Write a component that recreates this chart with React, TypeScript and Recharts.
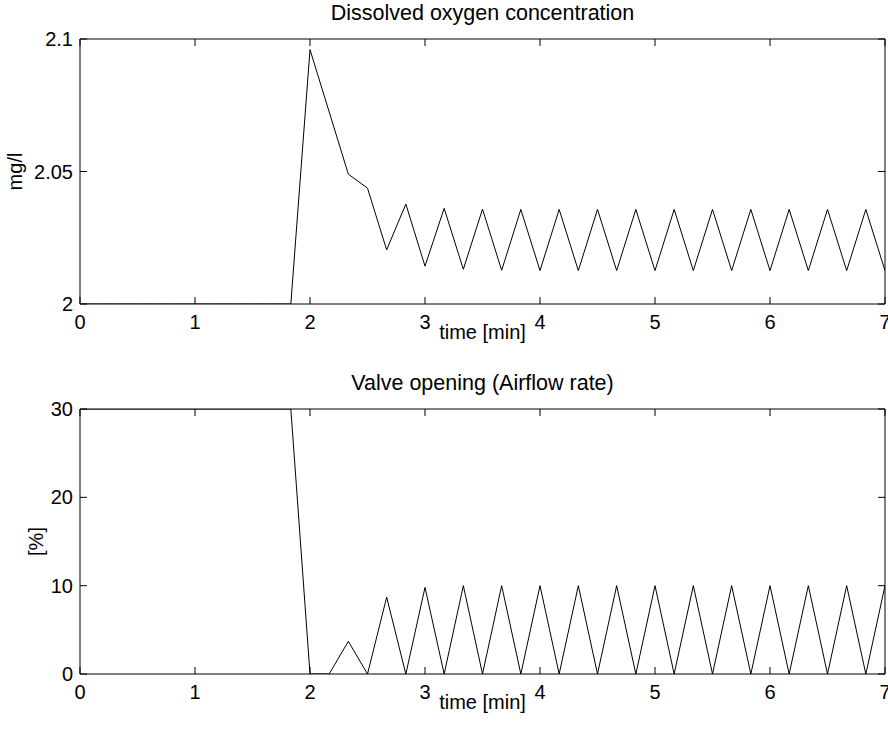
import React from 'react';
import { LineChart, Line, XAxis, YAxis, Label } from 'recharts';

const FONT = 'Arial, "Liberation Sans", Helvetica, sans-serif';
const FS = 20;
const TITLE_FS = 21.5;

// time samples [min]
const timeMin = [
  0, 0.1667, 0.3333, 0.5, 0.6667, 0.8333, 1, 1.1667, 1.3333, 1.5, 1.6667, 1.8333,
  2, 2.1667, 2.3333, 2.5, 2.6667, 2.8333, 3, 3.1667, 3.3333, 3.5, 3.6667, 3.8333,
  4, 4.1667, 4.3333, 4.5, 4.6667, 4.8333, 5, 5.1667, 5.3333, 5.5, 5.6667, 5.8333,
  6, 6.1667, 6.3333, 6.5, 6.6667, 6.8333, 7,
];

// dissolved oxygen [mg/l]
const oxygen = [
  2, 2, 2, 2, 2, 2, 2, 2, 2, 2, 2, 2,
  2.096, 2.0725, 2.049, 2.0437, 2.0204, 2.0377, 2.0143, 2.0361, 2.0131, 2.0358, 2.0127, 2.0357,
  2.0126, 2.0357, 2.0126, 2.0357, 2.0126, 2.0357, 2.0126, 2.0357, 2.0126, 2.0357, 2.0126, 2.0357,
  2.0126, 2.0357, 2.0126, 2.0357, 2.0126, 2.0357, 2.0126,
];

// valve opening [%]
const valve = [
  30, 30, 30, 30, 30, 30, 30, 30, 30, 30, 30, 30,
  0, 0, 3.7, 0, 8.7, 0, 9.8, 0, 10, 0, 10, 0,
  10, 0, 10, 0, 10, 0, 10, 0, 10, 0, 10, 0,
  10, 0, 10, 0, 10, 0, 10,
];

const xTicks = [0, 1, 2, 3, 4, 5, 6, 7];
const oxygenTicks = [2, 2.05, 2.1];
const valveTicks = [0, 10, 20, 30];

const titles = ['Dissolved oxygen concentration', 'Valve opening (Airflow rate)'];
const yLabels = ['mg/l', '[%]'];
const xLabel = 'time [min]';

const oxygenData = timeMin.map((t, i) => ({ t, v: oxygen[i] }));
const valveData = timeMin.map((t, i) => ({ t, v: valve[i] }));

const TICK_LEN = 7;

const BottomTick = (p: any) => (
  <g>
    <line x1={p.x} y1={p.y} x2={p.x} y2={p.y - TICK_LEN} stroke="#000" strokeWidth={1} />
    <text x={p.x} y={p.y + 25} textAnchor="middle" fontSize={FS} fontFamily={FONT} fill="#000">
      {p.payload.value}
    </text>
  </g>
);
const TopTick = (p: any) => (
  <line x1={p.x} y1={p.y} x2={p.x} y2={p.y + TICK_LEN} stroke="#000" strokeWidth={1} />
);
const LeftTick = (p: any) => (
  <g>
    <line x1={p.x} y1={p.y} x2={p.x + TICK_LEN} y2={p.y} stroke="#000" strokeWidth={1} />
    <text x={p.x - 7} y={p.y + 7} textAnchor="end" fontSize={FS} fontFamily={FONT} fill="#000">
      {p.payload.value}
    </text>
  </g>
);
const RightTick = (p: any) => (
  <line x1={p.x} y1={p.y} x2={p.x - TICK_LEN} y2={p.y} stroke="#000" strokeWidth={1} />
);

function Panel({ data, ticks, domain, title, yLabel, yLabelX, height, marginTop, marginBottom }: any) {
  return (
    <LineChart
      width={888}
      height={height}
      data={data}
      margin={{ top: marginTop, right: 2, bottom: marginBottom, left: 79 }}
    >
      <XAxis
        xAxisId="b"
        dataKey="t"
        type="number"
        domain={[0, 7]}
        ticks={xTicks}
        interval={0}
        height={1}
        tickSize={0}
        tickMargin={0}
        tickLine={false}
        axisLine={{ stroke: '#000', strokeWidth: 1 }}
        tick={BottomTick}
        allowDataOverflow
      >
        <Label
          content={(lp: any) => {
            const vb = lp.viewBox || {};
            return (
              <text x={vb.x + vb.width / 2} y={vb.y + 35} textAnchor="middle" fontSize={FS} fontFamily={FONT} fill="#000">
                {xLabel}
              </text>
            );
          }}
        />
      </XAxis>
      <XAxis
        xAxisId="t"
        orientation="top"
        dataKey="t"
        type="number"
        domain={[0, 7]}
        ticks={xTicks}
        interval={0}
        height={1}
        tickSize={0}
        tickMargin={0}
        tickLine={false}
        axisLine={{ stroke: '#000', strokeWidth: 1 }}
        tick={TopTick}
        allowDataOverflow
      >
        <Label
          content={(lp: any) => {
            const vb = lp.viewBox || {};
            return (
              <text x={vb.x + vb.width / 2} y={vb.y + vb.height - 19} textAnchor="middle" fontSize={TITLE_FS} fontFamily={FONT} fill="#000">
                {title}
              </text>
            );
          }}
        />
      </XAxis>
      <YAxis
        yAxisId="l"
        type="number"
        domain={domain}
        ticks={ticks}
        interval={0}
        width={1}
        tickSize={0}
        tickMargin={0}
        tickLine={false}
        axisLine={{ stroke: '#000', strokeWidth: 1 }}
        tick={LeftTick}
        allowDataOverflow
      >
        <Label
          content={(lp: any) => {
            const vb = lp.viewBox || {};
            const cy = vb.y + vb.height / 2;
            return (
              <text
                x={yLabelX}
                y={cy}
                transform={`rotate(-90, ${yLabelX}, ${cy})`}
                textAnchor="middle"
                fontSize={FS}
                fontFamily={FONT}
                fill="#000"
              >
                {yLabel}
              </text>
            );
          }}
        />
      </YAxis>
      <YAxis
        yAxisId="r"
        orientation="right"
        type="number"
        domain={domain}
        ticks={ticks}
        interval={0}
        width={1}
        tickSize={0}
        tickMargin={0}
        tickLine={false}
        axisLine={{ stroke: '#000', strokeWidth: 1 }}
        tick={RightTick}
        allowDataOverflow
      />
      <Line
        xAxisId="b"
        yAxisId="l"
        dataKey="v"
        type="linear"
        stroke="#000"
        strokeWidth={1}
        dot={false}
        activeDot={false}
        isAnimationActive={false}
      />
    </LineChart>
  );
}

export default function App() {
  return (
    <div style={{ position: 'absolute', left: 0, top: 0, width: 888, height: 733, background: '#fff', overflow: 'hidden' }}>
      <div style={{ position: 'absolute', left: 0, top: 0 }}>
        <Panel
          data={oxygenData}
          ticks={oxygenTicks}
          domain={[2, 2.1]}
          title={titles[0]}
          yLabel={yLabels[0]}
          yLabelX={22}
          height={360}
          marginTop={38}
          marginBottom={55}
        />
      </div>
      <div style={{ position: 'absolute', left: 0, top: 360 }}>
        <Panel
          data={valveData}
          ticks={valveTicks}
          domain={[0, 30]}
          title={titles[1]}
          yLabel={yLabels[1]}
          yLabelX={43}
          height={373}
          marginTop={48}
          marginBottom={58}
        />
      </div>
    </div>
  );
}
